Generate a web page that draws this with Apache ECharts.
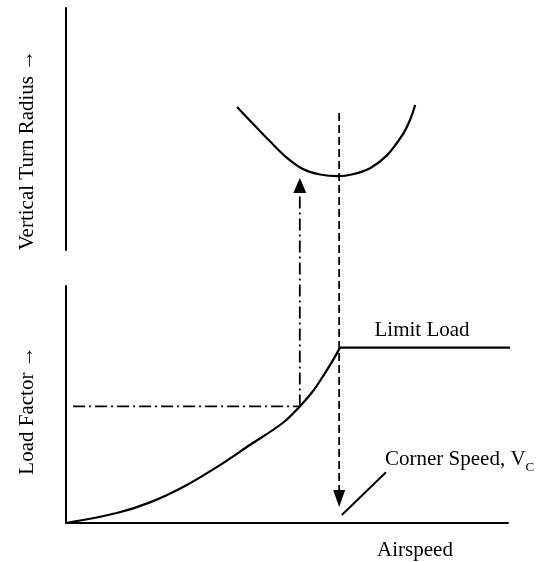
<!DOCTYPE html>
<html>
<head>
<meta charset="utf-8">
<script src="https://cdn.jsdelivr.net/npm/echarts@6/dist/echarts.min.js"></script>
<style>html,body{margin:0;padding:0;background:#fff}#c{width:541px;height:562px}</style>
</head>
<body>
<div id="c"></div>
<script>
// Top panel: vertical turn radius vs airspeed (abstract units)
const radiusCurve = [[38.7,59.1],[42.3,52.2],[46.2,44.8],[50.0,38.1],[53.6,33.5],[57.5,31.2],[61.5,30.5],[64.9,31.3],[68.8,33.8],[72.6,39.1],[76.2,47.8],[77.8,53.6],[79.0,59.9]];
// Bottom panel: load factor vs airspeed
const loadCurve = [[0,0],[11.5,4.2],[19,8.7],[26.5,15.2],[34.2,23.7],[41.6,32.9],[49.1,42.3],[52.9,49.2],[55.9,55.7],[58.1,61.8],[60.2,68.1],[62,74]];
const limitLoad = [[62,74],[101.8,74]];
// Example load factor (dash-dot) and corner speed (dashed)
const exampleSpeed = 52.9, exampleLoad = 49.2, exampleLeft = 1.6, exampleArrowTop = 142.4;
const cornerSpeed = 61.8, cornerTop = 56.6, cornerArrowBottom = -102.7;
const cornerPointer = [[62.4,3.4],[72.4,21.4]];
const labels = {top:'Vertical Turn Radius →', bottom:'Load Factor →', x:'Airspeed', limit:'Limit Load', corner:'Corner Speed, V', cornerSub:'C'};

const FONT = 'Liberation Serif, Times New Roman, serif';
const axLine = {show:true, onZero:false, lineStyle:{color:'#000', width:2}};
const hidden = {axisTick:{show:false}, axisLabel:{show:false}, splitLine:{show:false}};
const black = '#000';

const chart = echarts.init(document.getElementById('c'), null, {renderer:'canvas'});
chart.setOption({
  animation:false,
  backgroundColor:'#fff',
  grid:[
    {left:66, right:33, top:8, bottom:312},
    {left:66, right:33, top:286, bottom:38}
  ],
  xAxis:[
    Object.assign({type:'value', gridIndex:0, min:0, max:100, show:false}, hidden),
    Object.assign({type:'value', gridIndex:1, min:0, max:100, axisLine:axLine,
      name:labels.x, nameLocation:'middle', nameGap:17,
      nameTextStyle:{fontFamily:FONT, fontSize:21, color:black, padding:[0,0,0,256]}}, hidden)
  ],
  yAxis:[
    Object.assign({type:'value', gridIndex:0, min:0, max:100, axisLine:axLine,
      name:labels.top, nameLocation:'middle', nameGap:28, nameRotate:90,
      nameTextStyle:{fontFamily:FONT, fontSize:21, color:black, padding:[0,42,0,0]}}, hidden),
    Object.assign({type:'value', gridIndex:1, min:0, max:100, axisLine:axLine,
      name:labels.bottom, nameLocation:'middle', nameGap:28, nameRotate:90,
      nameTextStyle:{fontFamily:FONT, fontSize:21, color:black, padding:[0,12,0,0]}}, hidden)
  ],
  series:[
    {type:'line', xAxisIndex:0, yAxisIndex:0, data:radiusCurve, smooth:0.35, symbol:'none', clip:false,
      lineStyle:{color:black, width:2.2}},
    {type:'line', xAxisIndex:1, yAxisIndex:1, data:loadCurve, smooth:0.35, symbol:'none', clip:false,
      lineStyle:{color:black, width:2.2}},
    {type:'line', xAxisIndex:1, yAxisIndex:1, data:limitLoad, symbol:'none', clip:false,
      lineStyle:{color:black, width:2.2}},
    {type:'line', xAxisIndex:1, yAxisIndex:1, data:[[exampleLeft,exampleLoad],[exampleSpeed,exampleLoad]], symbol:'none', clip:false,
      lineStyle:{color:black, width:1.8, type:[12,4,2,4]}},
    {type:'line', xAxisIndex:1, yAxisIndex:1, clip:false, symbol:'none', showSymbol:true,
      data:[[exampleSpeed,exampleLoad],{value:[exampleSpeed,exampleArrowTop], symbol:'triangle', symbolSize:[13,15]}],
      itemStyle:{color:black}, lineStyle:{color:black, width:1.8, type:[12,4,2,4]}},
    {type:'line', xAxisIndex:0, yAxisIndex:0, clip:false, symbol:'none', showSymbol:true,
      data:[[cornerSpeed,cornerTop],{value:[cornerSpeed,cornerArrowBottom], symbol:'triangle', symbolSize:[12,17], symbolRotate:180}],
      itemStyle:{color:black}, lineStyle:{color:black, width:1.8, type:[8,4]}},
    {type:'line', xAxisIndex:1, yAxisIndex:1, data:cornerPointer, symbol:'none', clip:false,
      lineStyle:{color:black, width:2}}
  ],
  graphic:[
    {type:'text', x:422, y:330, style:{text:labels.limit, font:'21px '+FONT, fill:black, align:'center', verticalAlign:'middle'}},
    {type:'text', x:385, y:459, style:{text:'{a|'+labels.corner+'}{s|'+labels.cornerSub+'}', fill:black, align:'left', verticalAlign:'middle',
      rich:{a:{fontFamily:FONT, fontSize:21, fill:black, lineHeight:22, verticalAlign:'bottom'},
            s:{fontFamily:FONT, fontSize:13, fill:black, lineHeight:22, verticalAlign:'bottom', padding:[0,0,-4,0]}}}}
  ]
});
</script>
</body>
</html>
